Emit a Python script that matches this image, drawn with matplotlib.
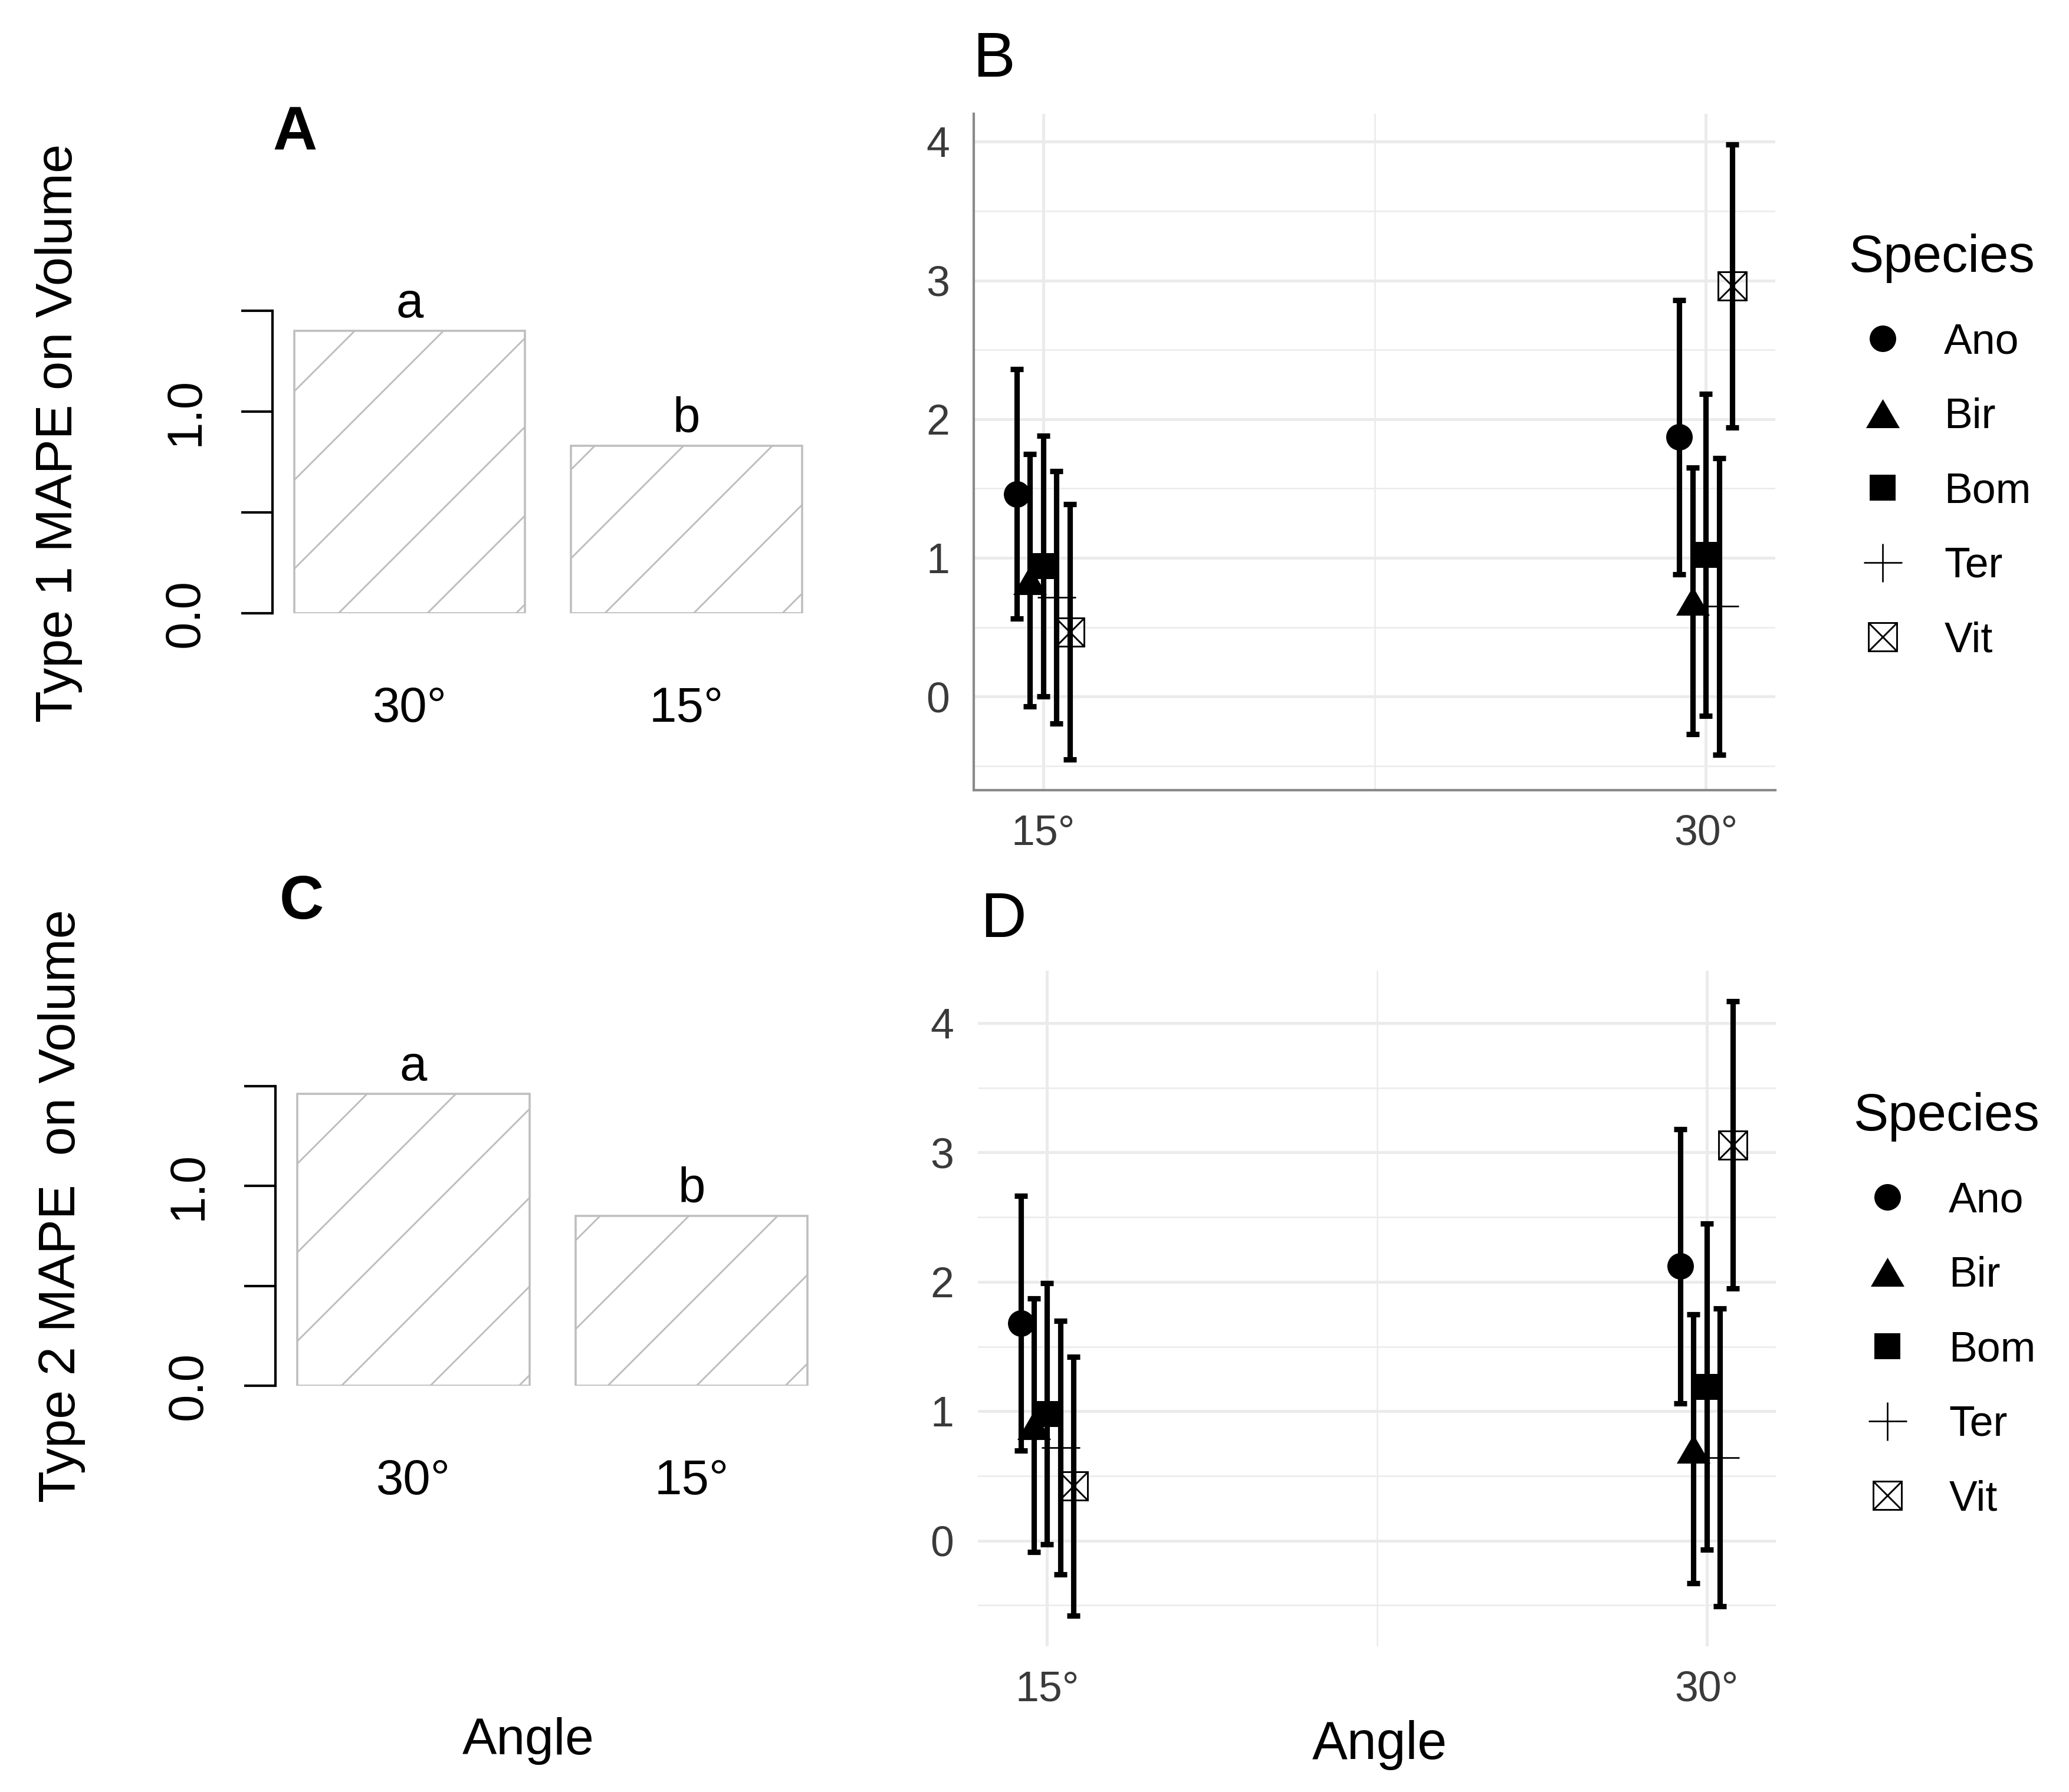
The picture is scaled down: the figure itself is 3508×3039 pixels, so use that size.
import numpy as np
import matplotlib
matplotlib.use('Agg')
from matplotlib import pyplot as plt
from matplotlib.lines import Line2D
from matplotlib.path import Path
from matplotlib.legend_handler import HandlerTuple

plt.rcParams['font.family'] = ['Liberation Sans', 'DejaVu Sans']

W, H, DPI = 3508, 3039, 300

# bar panels (A, C): overall MAPE by angle
bar_angles = ['30°', '15°']
bar_letters = ['a', 'b']
type1_bars = [1.40, 0.83]
type2_bars = [1.46, 0.85]

# point panels (B, D): per species mean and error half-width
species = ['Ano', 'Bir', 'Bom', 'Ter', 'Vit']
angles = ['15°', '30°']
type1_mean_15 = [1.46, 0.84, 0.94, 0.715, 0.466]
type1_err_15 = [0.90, 0.91, 0.94, 0.91, 0.92]
type1_mean_30 = [1.87, 0.69, 1.02, 0.65, 2.96]
type1_err_30 = [0.99, 0.96, 1.16, 1.07, 1.02]
type2_mean_15 = [1.68, 0.89, 0.98, 0.72, 0.42]
type2_err_15 = [0.985, 0.98, 1.01, 0.98, 1.00]
type2_mean_30 = [2.12, 0.71, 1.19, 0.643, 3.058]
type2_err_30 = [1.06, 1.04, 1.26, 1.15, 1.11]

BAR_EDGE = '#bebebe'
GRID = '#ebebeb'
TICK_TXT = '#3a3a3a'

fig = plt.figure(figsize=(W / DPI, H / DPI), dpi=DPI, facecolor='white')


def px_axes(left, top, right, bottom):
    return fig.add_axes([left / W, 1 - bottom / H, (right - left) / W, (bottom - top) / H])


def fig_text(x, y, s, **kw):
    return fig.text(x / W, 1 - y / H, s, **kw)


def hatch_bar(ax, bar, w_px, h_px, spacing=150.5, phase=112):
    # R style density hatching: 45 degree lines in device space
    x0d, x1d = ax.get_xlim()
    y0d, y1d = ax.get_ylim()
    sx = w_px / (x1d - x0d)
    sy = h_px / (y1d - y0d)
    px0 = (bar.get_x() - x0d) * sx
    px1 = (bar.get_x() + bar.get_width() - x0d) * sx
    py0 = (bar.get_y() - y0d) * sy
    py1 = (bar.get_y() + bar.get_height() - y0d) * sy
    kmin = int(np.floor((px0 - py1 - phase) / spacing))
    kmax = int(np.ceil((px1 - py0 - phase) / spacing))
    for k in range(kmin, kmax + 1):
        c = phase + k * spacing
        xs = np.array([c + py0, c + py1])
        ys = np.array([py0, py1])
        ln, = ax.plot(x0d + xs / sx, y0d + ys / sy, color=BAR_EDGE, lw=0.7,
                      solid_capstyle='butt', zorder=1)
        ln.set_clip_path(bar)


def bar_panel(box, values, tag, tag_xy, ylabel, ylabel_xy):
    left, top, right, bottom = box
    ax = px_axes(left, top, right, bottom)
    pos = [0.7, 1.9]
    bars = ax.bar(pos, values, width=1.0, facecolor='none', edgecolor=BAR_EDGE,
                  linewidth=0.85, zorder=2)
    ax.set_xlim(0.105, 2.488)
    ax.set_ylim(0, 1.6)
    for b in bars:
        hatch_bar(ax, b, right - left, bottom - top)
    for p, v, letter in zip(pos, values, bar_letters):
        ax.annotate(letter, (p, v), xytext=(0, 5.6), textcoords='offset points',
                    ha='center', va='baseline', fontsize=20, annotation_clip=False)
    for s in ['top', 'right', 'bottom']:
        ax.spines[s].set_visible(False)
    ax.spines['left'].set_bounds(0, 1.5)
    ax.spines['left'].set_linewidth(1.0)
    ax.set_yticks([0, 0.5, 1.0, 1.5])
    ax.set_yticklabels(['0.0', '', '1.0', ''], rotation=90, va='center')
    ax.tick_params(axis='y', length=12.7, width=1.0, pad=13.4, labelsize=20)
    ax.set_xticks(pos)
    ax.set_xticklabels(bar_angles)
    ax.tick_params(axis='x', length=0, pad=29.5, labelsize=20)
    fig_text(tag_xy[0], tag_xy[1], tag, fontsize=25, fontweight='bold',
             ha='left', va='baseline')
    fig_text(ylabel_xy[0], ylabel_xy[1], ylabel, fontsize=21.2, rotation=90,
             ha='center', va='center')
    return ax


def vit_handles(ms=11.5):
    sq = Line2D([], [], ls='none', marker='s', ms=ms, mfc='none', mec='black', mew=0.7)
    xx = Line2D([], [], ls='none', marker='x', ms=ms, mec='black', mew=0.7)
    return sq, xx


tri = Path([(-1, -0.86), (1, -0.86), (0, 0.86), (-1, -0.86)],
           [Path.MOVETO, Path.LINETO, Path.LINETO, Path.CLOSEPOLY])
marker_styles = {
    'Ano': dict(marker='o', ms=10.8, mfc='black', mec='black', mew=0),
    'Bir': dict(marker=tri, ms=13.7, mfc='black', mec='black', mew=0),
    'Bom': dict(marker='s', ms=10.6, mfc='black', mec='black', mew=0),
    'Ter': dict(marker='+', ms=15.6, mec='black', mew=0.65),
}


def point_panel(box, m15, e15, m30, e30, tag, tag_xy, axis_lines, legend_xy):
    left, top, right, bottom = box
    ax = px_axes(left, top, right, bottom)
    cats = np.arange(1, len(angles) + 1)
    means = np.array([m15, m30])
    errs = np.array([e15, e30])
    lo = (means - errs).min()
    hi = (means + errs).max()
    r = hi - lo
    handles = []
    for i, sp in enumerate(species):
        xs = cats + (i - 2) * 0.02
        ys = means[:, i]
        if sp == 'Vit':
            ax.plot(xs, ys, ls='none', marker='s', ms=11.5, mfc='none', mec='black',
                    mew=0.7, zorder=3)
            ax.plot(xs, ys, ls='none', marker='x', ms=11.5, mec='black', mew=0.7, zorder=3)
            handles.append(vit_handles())
        else:
            ax.plot(xs, ys, ls='none', zorder=3, **marker_styles[sp])
            handles.append(Line2D([], [], ls='none', **marker_styles[sp]))
        ax.errorbar(xs, ys, yerr=errs[:, i], fmt='none', ecolor='black', elinewidth=2.2,
                    capsize=2.7, capthick=2.2, zorder=4)
    ax.set_xlim(0.895, 2.105)
    ax.set_ylim(lo - 0.05 * r, hi + 0.05 * r)
    ax.set_xticks(cats)
    ax.set_xticklabels(angles)
    ax.set_xticks([1.5], minor=True)
    ax.set_yticks(range(0, 5))
    ax.set_yticks(np.arange(-0.5, 4.0, 1.0), minor=True)
    ax.grid(True, which='major', color=GRID, lw=1.2, zorder=0)
    ax.grid(True, which='minor', color=GRID, lw=0.6, zorder=0)
    ax.set_axisbelow(True)
    ax.tick_params(which='both', length=0, labelsize=17.2, labelcolor=TICK_TXT)
    ax.tick_params(axis='x', pad=9.8)
    ax.tick_params(axis='y', pad=9.8)
    for s in ['top', 'right']:
        ax.spines[s].set_visible(False)
    for s in ['left', 'bottom']:
        ax.spines[s].set_visible(axis_lines)
        ax.spines[s].set_color('#8a8a8a')
        ax.spines[s].set_linewidth(1.0)
    fig_text(tag_xy[0], tag_xy[1], tag, fontsize=25.8, ha='left', va='baseline')
    leg = ax.legend(handles, species, title='Species', loc='upper left',
                    bbox_to_anchor=(legend_xy[0] / W, 1 - legend_xy[1] / H),
                    bbox_transform=fig.transFigure, frameon=False, borderpad=0,
                    fontsize=17.2, title_fontsize=21.3, alignment='left',
                    handlelength=1.6, handletextpad=0.65, labelspacing=0.83,
                    borderaxespad=0, numpoints=1,
                    handler_map={tuple: HandlerTuple(ndivide=1, pad=0)})
    leg.get_title().set_color('black')
    leg._legend_box.sep = 16.2
    return ax


bar_panel((462, 493, 1394, 1040), type1_bars, 'A', (462, 253),
          'Type 1 MAPE on Volume', (100, 734))
bar_panel((467, 1808, 1404, 2350), type2_bars, 'C', (474, 1558),
          'Type 2 MAPE  on Volume', (105, 2045))

point_panel((1651, 193, 3010, 1340), type1_mean_15, type1_err_15, type1_mean_30,
            type1_err_30, 'B', (1649, 130), True, (3135, 396))
point_panel((1658, 1646, 3011, 2792), type2_mean_15, type2_err_15, type2_mean_30,
            type2_err_30, 'D', (1662, 1589), False, (3143, 1852))

fig_text(896, 2975, 'Angle', fontsize=21, ha='center', va='baseline')
fig_text(2339, 2983, 'Angle', fontsize=21.5, ha='center', va='baseline')

fig.savefig('out.png', dpi=DPI, facecolor='white')
